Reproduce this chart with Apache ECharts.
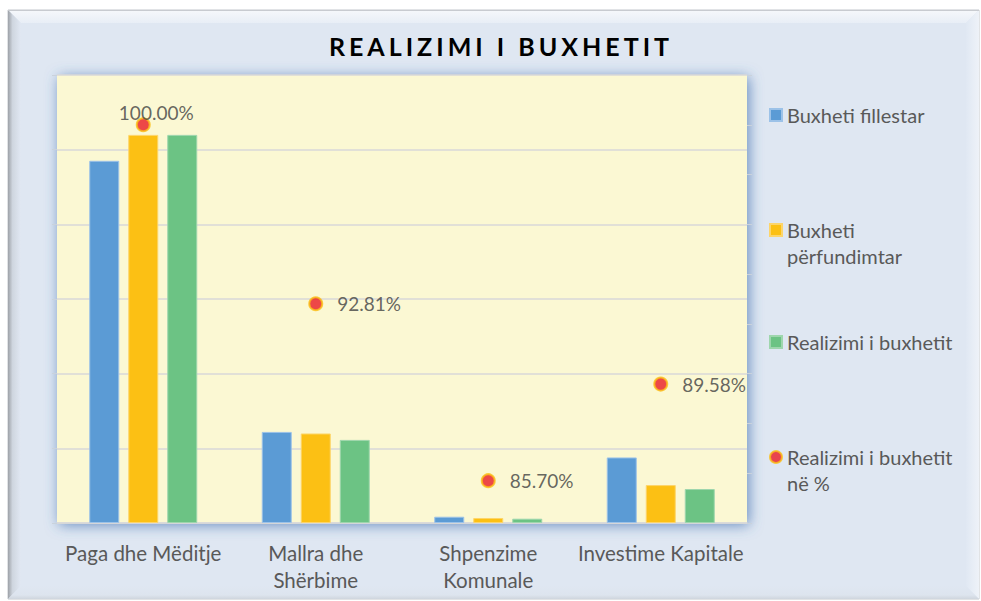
<!DOCTYPE html>
<html>
<head>
<meta charset="utf-8">
<script src="https://cdn.jsdelivr.net/npm/echarts@6/dist/echarts.min.js"></script>
<style>
html,body{margin:0;padding:0;background:#ffffff;}
#chart{width:981px;height:601px;}
</style>
</head>
<body>
<div id="chart"></div>
<script>
// ---- data ----
const titleText = 'REALIZIMI I BUXHETIT';
const categories = ['Paga dhe Mëditje', 'Mallra dhe\nShërbime', 'Shpenzime\nKomunale', 'Investime Kapitale'];
const seriesNames = ['Buxheti fillestar', 'Buxheti përfundimtar', 'Realizimi i buxhetit', 'Realizimi i buxhetit në %'];
const legendLabels = ['Buxheti fillestar', 'Buxheti\npërfundimtar', 'Realizimi i buxhetit', 'Realizimi i buxhetit\nnë %'];
const buxhetiFillestar = [4851000, 1220000, 84000, 878000];
const buxhetiPerfundimtar = [5198000, 1199000, 67000, 508000];
const realizimi = [5198000, 1113000, 57400, 455000];
const realizimiPct = [100.00, 92.81, 85.70, 89.58];

const font = 'Lato';
const textGrey = '#595959';

const chart = echarts.init(document.getElementById('chart'), null, {renderer: 'svg'});

const legendTops = [102, 191, 329, 418];
const legends = seriesNames.map((n, i) => ({
  data: [n],
  orient: 'vertical',
  left: 769,
  top: legendTops[i],
  padding: 0,
  itemWidth: 12,
  itemHeight: 12,
  icon: i === 3 ? 'circle' : 'rect',
  selectedMode: false,
  // multi-line labels: a leading empty line keeps the first line level with the icon
  formatter: () => legendLabels[i].indexOf('\n') >= 0 ? '\n' + legendLabels[i] : legendLabels[i],
  textStyle: {fontFamily: font, fontSize: 20, color: textGrey, lineHeight: 26}
}));

const option = {
  animation: false,
  backgroundColor: 'transparent',
  textStyle: {fontFamily: font},
  title: {
    text: titleText,
    left: 501,
    textAlign: 'center',
    top: 31,
    padding: 0,
    textStyle: {fontFamily: font, fontSize: 25, fontWeight: 'bold', color: '#000000', lineHeight: 30}
  },
  graphic: [
    {type: 'rect', z: -100, silent: true, shape: {x: 8, y: 10, width: 971, height: 589},
      style: {fill: '#dfe7f2', stroke: '#c3c7cc', lineWidth: 1}},
    {type: 'polygon', z: -99, silent: true, shape: {points: [[8, 10], [979, 10], [966, 23], [21, 23]]},
      style: {fill: new echarts.graphic.LinearGradient(0, 0, 0, 1, [{offset: 0, color: '#f6f8fb'}, {offset: 1, color: '#e8eef6'}])}},
    {type: 'polygon', z: -99, silent: true, shape: {points: [[8, 10], [21, 23], [21, 586], [8, 599]]},
      style: {fill: new echarts.graphic.LinearGradient(0, 0, 1, 0, [{offset: 0, color: '#9ea2a8'}, {offset: 0.35, color: '#cfd6df'}, {offset: 1, color: '#e1e8f3'}])}},
    {type: 'polygon', z: -99, silent: true, shape: {points: [[979, 10], [979, 599], [966, 586], [966, 23]]},
      style: {fill: new echarts.graphic.LinearGradient(1, 0, 0, 0, [{offset: 0, color: '#eef2f8'}, {offset: 1, color: '#e0e8f3'}])}},
    {type: 'polygon', z: -99, silent: true, shape: {points: [[8, 599], [979, 599], [966, 586], [21, 586]]},
      style: {fill: new echarts.graphic.LinearGradient(0, 1, 0, 0, [{offset: 0, color: '#cfd5dd'}, {offset: 0.3, color: '#dde4ee'}, {offset: 1, color: '#dfe7f2'}])}},
    {type: 'line', z: -98, silent: true, shape: {x1: 8, y1: 10.5, x2: 979, y2: 10.5},
      style: {stroke: '#c8cbd0', lineWidth: 1}}
  ],
  legend: legends,
  grid: {
    left: 57, top: 75, width: 690, height: 448,
    show: true,
    backgroundColor: '#fbf8d3',
    borderWidth: 0,
    shadowColor: 'rgba(60,110,175,0.75)',
    shadowBlur: 14,
    shadowOffsetX: 2,
    shadowOffsetY: 2
  },
  xAxis: {
    type: 'category',
    data: categories,
    axisTick: {show: false},
    axisLine: {lineStyle: {color: '#d9d9d9', width: 1.5}},
    axisLabel: {interval: 0, margin: 16, fontFamily: font, fontSize: 20.5, color: textGrey, lineHeight: 27}
  },
  yAxis: [
    {
      type: 'value', min: 0, max: 6000000, interval: 1000000,
      axisLabel: {show: false},
      axisLine: {show: false},
      axisTick: {show: true, length: 5, lineStyle: {color: '#c9d2dc'}},
      splitLine: {lineStyle: {color: '#d9d9d9', width: 1.5}}
    },
    {
      type: 'value', min: 84, max: 102, interval: 2,
      axisLabel: {show: false},
      axisLine: {show: false},
      axisTick: {show: true, length: 5, lineStyle: {color: '#c9d2dc'}},
      splitLine: {show: false}
    }
  ],
  series: [
    {name: seriesNames[0], type: 'bar', data: buxhetiFillestar, barWidth: 30, barGap: '30%',
      itemStyle: {color: '#5b9bd5', borderColor: '#9cc2e8', borderWidth: 1}},
    {name: seriesNames[1], type: 'bar', data: buxhetiPerfundimtar, barWidth: 30, barGap: '30%',
      itemStyle: {color: '#fcc014', borderColor: '#fdd56a', borderWidth: 1}},
    {name: seriesNames[2], type: 'bar', data: realizimi, barWidth: 30, barGap: '30%',
      itemStyle: {color: '#6cc384', borderColor: '#9ed6ad', borderWidth: 1}},
    {name: seriesNames[3], type: 'scatter', yAxisIndex: 1, z: 5, symbolSize: 13,
      itemStyle: {color: '#ea1c24', borderColor: '#fbbf14', borderWidth: 2},
      data: realizimiPct.map((v, i) => i === 0 ? {value: v, label: {position: 'top', distance: -5, offset: [13, 0]}} : v),
      label: {
        show: true, position: 'right', distance: 14,
        fontFamily: font, fontSize: 19, color: '#404040', lineHeight: 20,
        formatter: p => p.value.toFixed(2) + '%'
      }}
  ]
};

chart.setOption(option);

function spaceTitle() {
  document.querySelectorAll('#chart text').forEach(t => {
    if (t.textContent === titleText) t.style.letterSpacing = '4px';
  });
}
spaceTitle();
chart.on('finished', spaceTitle);
setTimeout(spaceTitle, 50);
</script>
</body>
</html>
